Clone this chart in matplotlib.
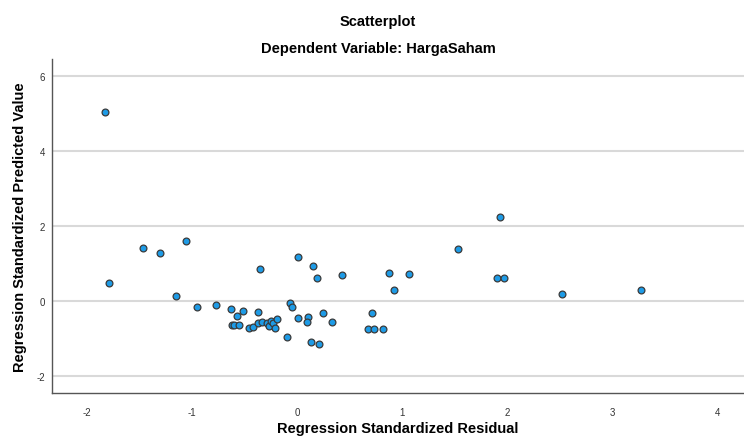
import matplotlib
matplotlib.use("Agg")
import matplotlib.pyplot as plt

# Regression standardized residual (x) vs standardized predicted value (y)
residual = [
    -1.83, -1.79, -1.46, -1.30, -1.15, -1.06, -0.95, -0.77, -0.63, -0.57,
    -0.51, -0.37, -0.62, -0.60, -0.55, -0.46, -0.42, -0.37, -0.33, -0.29,
    -0.27, -0.25, -0.23, -0.21, -0.19, -0.35, -0.10, -0.07, -0.05, 0.01,
    0.10, 0.09, 0.13, 0.21, 0.25, 0.33, 0.01, 0.15, 0.19, 0.43,
    0.71, 0.67, 0.73, 0.82, 0.87, 1.06, 0.92, 1.53, 1.93, 1.90,
    1.97, 2.52, 3.27,
]
predicted = [
    5.03, 0.48, 1.41, 1.28, 0.14, 1.59, -0.17, -0.11, -0.21, -0.40,
    -0.26, -0.30, -0.64, -0.64, -0.64, -0.72, -0.70, -0.59, -0.55, -0.59,
    -0.67, -0.53, -0.59, -0.71, -0.48, 0.86, -0.96, -0.05, -0.15, -0.44,
    -0.43, -0.57, -1.09, -1.14, -0.32, -0.56, 1.18, 0.93, 0.61, 0.69,
    -0.31, -0.75, -0.75, -0.75, 0.75, 0.72, 0.29, 1.39, 2.25, 0.61,
    0.62, 0.19, 0.30,
]
x_ticks = [-2, -1, 0, 1, 2, 3, 4]
y_ticks = [-2, 0, 2, 4, 6]

plt.rcParams["font.family"] = ["Liberation Sans", "DejaVu Sans"]
plt.rcParams["axes.unicode_minus"] = False

fig = plt.figure(figsize=(7.44, 4.39), dpi=100)
ax = fig.add_axes([52 / 744, 1 - 394 / 439, 1 - 52 / 744, (394 - 60) / 439])

ax.scatter(residual, predicted, s=24, color="#1e9be6", edgecolors="#3a3a3a",
           linewidths=0.9, zorder=3)

ax.set_xlim(-2.33, 4.25)
ax.set_ylim(-2.45, 6.45)
ax.set_xticks(x_ticks)
ax.set_yticks(y_ticks)
ax.tick_params(length=0, labelsize=7, colors="#333333")
ax.tick_params(axis="x", pad=10)
ax.tick_params(axis="y", pad=5)
ax.yaxis.grid(True, color="#d9d9d9", linewidth=1.5)
ax.set_axisbelow(True)
for side in ["top", "right"]:
    ax.spines[side].set_visible(False)
for side in ["left", "bottom"]:
    ax.spines[side].set_color("#555555")
    ax.spines[side].set_linewidth(1.0)

ax.set_xlabel("Regression Standardized Residual", fontsize=10.5,
              fontweight="bold", labelpad=3)
ax.set_ylabel("Regression Standardized Predicted Value", fontsize=10.5,
              fontweight="bold", labelpad=7)

fig.text(378 / 744, 1 - 22 / 439, "Scatterplot", ha="center", va="center",
         fontsize=10.5, fontweight="bold")
fig.text(378 / 744, 1 - 49 / 439, "Dependent Variable: HargaSaham",
         ha="center", va="center", fontsize=10.5, fontweight="bold")

fig.savefig("out.png", dpi=100)
